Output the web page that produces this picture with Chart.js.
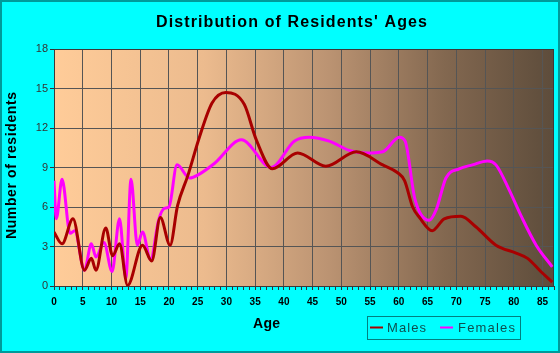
<!DOCTYPE html>
<html>
<head>
<meta charset="utf-8">
<script src="https://cdn.jsdelivr.net/npm/chart.js@4.4.1/dist/chart.umd.min.js"></script>
<style>
  html, body { margin: 0; padding: 0; background: #00ffff; }
  canvas { display: block; }
</style>
</head>
<body>
<canvas id="chart" width="560" height="353"></canvas>
<script>
// values (age, number of residents)
const maleAges = [0, 1.4, 3.3, 5.3, 6.5, 7.3, 9.0, 10.2, 11.4, 12.8, 15.4, 17.0, 18.5, 20.2, 21.5, 23.3, 25.3, 27.5,
  29.9, 33.1, 35.2, 38.0, 42.4, 47.3, 52.6, 57.2, 59.8, 61.0, 62.4, 63.6, 65.8, 67.9, 70.8, 73.4, 76.9, 80.4, 82.4, 84.7, 86.7];
const maleValues = [4.1, 3.2, 5.1, 1.2, 2.1, 1.2, 4.4, 2.3, 3.2, 0.05, 3.1, 1.9, 5.2, 3.1, 6.1, 8.4, 11.3, 13.9,
  14.7, 13.8, 11.1, 8.9, 10.1, 9.1, 10.2, 9.2, 8.6, 8.0, 6.0, 5.2, 4.2, 5.1, 5.3, 4.5, 3.1, 2.5, 2.1, 1.1, 0.3];

const femaleAges = [0, 0.4, 1.4, 2.8, 3.6, 5.3, 6.5, 7.3, 8.7, 10.1, 11.4, 12.5, 13.4, 14.5, 15.4, 16.8, 18.2, 19.2, 20.0,
  21.4, 23.6, 25.3, 27.9, 32.6, 37.8, 41.8, 44.4, 47.9, 51.4, 54.3, 57.2, 60.1, 61.1, 62.8, 65.3, 66.5, 68.2, 70.5,
  72.8, 75.4, 76.9, 79.2, 81.3, 83.9, 86.7];
const femaleValues = [8.0, 5.1, 8.1, 4.0, 4.2, 1.2, 3.2, 2.2, 3.3, 1.1, 5.1, 0.6, 8.1, 3.1, 4.1, 2.0, 5.0, 5.9, 6.0,
  9.2, 8.2, 8.5, 9.3, 11.1, 9.0, 11.0, 11.3, 11.0, 10.3, 10.1, 10.2, 11.3, 11.0, 6.6, 5.0, 5.8, 8.2, 8.9,
  9.2, 9.5, 9.2, 7.3, 5.3, 3.1, 1.45];

const yTicks = [0, 3, 6, 9, 12, 15, 18];
const xMax = 87;

const maleColor = '#a80000';
const femaleColor = '#ff00ff';

function toPoints(xs, ys) {
  return xs.map((x, i) => ({ x: x, y: ys[i] }));
}

// draw text stretched with letter spacing to a given width
function spacedText(ctx, text, left, y, font, width) {
  ctx.font = font;
  ctx.letterSpacing = '0px';
  const w0 = ctx.measureText(text).width;
  const sp = Math.max(0, (width - w0) / (text.length - 1));
  ctx.letterSpacing = sp + 'px';
  ctx.textAlign = 'left';
  ctx.fillText(text, left, y);
  ctx.letterSpacing = '0px';
}

const backdrop = {
  id: 'backdrop',
  beforeDraw(chart) {
    const { ctx, chartArea: a } = chart;
    ctx.save();
    ctx.fillStyle = '#00ffff';
    ctx.fillRect(0, 0, chart.width, chart.height);
    ctx.strokeStyle = '#009a9a';
    ctx.lineWidth = 2;
    ctx.strokeRect(1, 1, chart.width - 2, chart.height - 2);
    const g = ctx.createLinearGradient(a.left, 0, a.right, 0);
    g.addColorStop(0, '#ffcc99');
    g.addColorStop(0.3, '#ecbb8e');
    g.addColorStop(0.55, '#bb9372');
    g.addColorStop(0.78, '#836850');
    g.addColorStop(1, '#5d4c3b');
    ctx.fillStyle = g;
    ctx.fillRect(a.left, a.top, a.right - a.left, a.bottom - a.top);
    ctx.restore();
  },
  beforeDatasetsDraw(chart) {
    const { ctx, chartArea: a } = chart;
    ctx.save();
    ctx.strokeStyle = '#3a3a3a';
    ctx.lineWidth = 1;
    ctx.strokeRect(a.left + 0.5, a.top + 0.5, a.right - a.left - 1, a.bottom - a.top);
    ctx.restore();
  },
  afterDraw(chart) {
    const ctx = chart.ctx;
    ctx.save();
    ctx.fillStyle = '#000';
    ctx.textBaseline = 'middle';
    spacedText(ctx, "Distribution of Residents' Ages", 156, 23, 'bold 16px "Liberation Sans", Arial, sans-serif', 271);
    spacedText(ctx, 'Age', 253, 324, 'bold 14px "Liberation Sans", Arial, sans-serif', 27);

    ctx.save();
    ctx.translate(12, 166);
    ctx.rotate(-Math.PI / 2);
    spacedText(ctx, 'Number of residents', -73, 0, 'bold 14px "Liberation Sans", Arial, sans-serif', 147);
    ctx.restore();

    // legend
    ctx.strokeStyle = '#008080';
    ctx.lineWidth = 1;
    ctx.strokeRect(367.5, 316.5, 153, 23);
    ctx.lineWidth = 2;
    ctx.strokeStyle = maleColor;
    ctx.beginPath(); ctx.moveTo(370, 327.5); ctx.lineTo(383, 327.5); ctx.stroke();
    ctx.strokeStyle = femaleColor;
    ctx.beginPath(); ctx.moveTo(440, 327.5); ctx.lineTo(453, 327.5); ctx.stroke();
    ctx.fillStyle = '#0d4f4f';
    spacedText(ctx, 'Males', 387, 328, '13px "Liberation Sans", Arial, sans-serif', 39);
    spacedText(ctx, 'Females', 458, 328, '13px "Liberation Sans", Arial, sans-serif', 57);
    ctx.restore();
  }
};

new Chart(document.getElementById('chart'), {
  type: 'line',
  data: {
    datasets: [
      { label: 'Males', data: toPoints(maleAges, maleValues), borderColor: maleColor, borderWidth: 3,
        pointRadius: 0, cubicInterpolationMode: 'monotone', fill: false },
      { label: 'Females', data: toPoints(femaleAges, femaleValues), borderColor: femaleColor, borderWidth: 3,
        pointRadius: 0, cubicInterpolationMode: 'monotone', fill: false }
    ]
  },
  options: {
    responsive: false,
    animation: false,
    layout: { padding: { top: 49, right: 5, left: 0, bottom: 0 } },
    plugins: { legend: { display: false }, title: { display: false }, tooltip: { enabled: false } },
    scales: {
      x: {
        type: 'linear',
        min: 0,
        max: xMax,
        afterFit: s => { s.height = 67; },
        afterBuildTicks: s => {
          s.ticks = [];
          for (let v = 0; v <= xMax; v++) s.ticks.push({ value: v });
        },
        grid: {
          color: c => (c.tick && c.tick.value % 5 === 0 && c.tick.value > 0) ? '#555' : 'rgba(0,0,0,0)',
          tickColor: '#333',
          tickLength: 4,
          lineWidth: 1
        },
        border: { color: '#333' },
        ticks: {
          autoSkip: false,
          maxRotation: 0,
          padding: 6,
          color: '#000',
          font: { family: '"Liberation Sans", Arial, sans-serif', size: 10, weight: 'bold' },
          callback: v => (v % 5 === 0 ? String(v) : '')
        }
      },
      y: {
        min: 0,
        max: 18,
        afterFit: s => { s.width = 54; },
        afterBuildTicks: s => { s.ticks = yTicks.map(v => ({ value: v })); },
        grid: { color: '#555', tickColor: '#333', tickLength: 4, lineWidth: 1 },
        border: { color: '#333' },
        ticks: {
          padding: 2,
          color: '#333',
          font: { family: '"Liberation Sans", Arial, sans-serif', size: 11 }
        }
      }
    }
  },
  plugins: [backdrop]
});
</script>
</body>
</html>
